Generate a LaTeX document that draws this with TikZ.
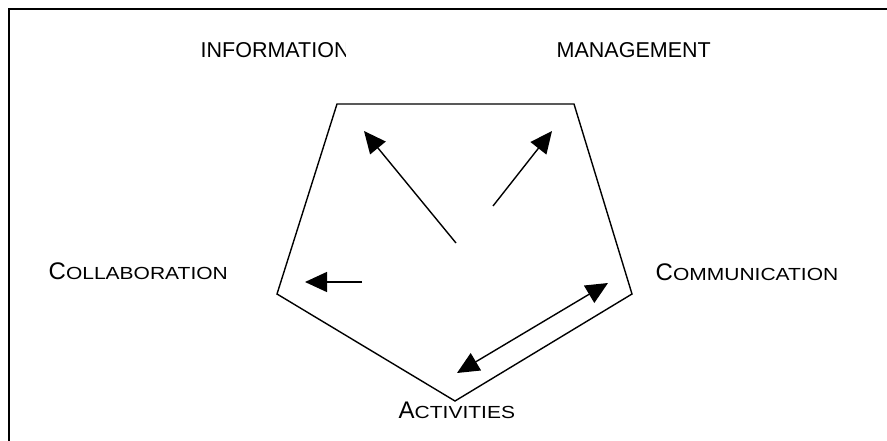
\documentclass[tikz,border=0pt]{standalone}
\usepackage{fontspec}
\usepackage{graphicx}
\setmainfont{Liberation Sans}
\usetikzlibrary{arrows.meta}
% grosser Anfangsbuchstabe, Rest in breiten Kapitaelchen
\newcommand{\grossklein}[2]{{\fontsize{24}{26}\selectfont #1}\scalebox{1.2}[1]{\fontsize{17.5}{20}\selectfont #2}}

\begin{document}
\begin{tikzpicture}[x=1pt,y=-1pt,line width=1.4pt,
    spitze/.tip={Triangle[length=22pt,width=20pt]},
    pfeil/.style={-spitze},
    doppelpfeil/.style={spitze-spitze},
    beschriftung/.style={anchor=base west,inner sep=0pt,font=\fontsize{21.5}{24}\selectfont}]
    \useasboundingbox (0,0) rectangle (887,441);
    % Rahmen
    \draw (9,441) -- (9,9) -- (887,9);
    % Punkte
    \coordinate (P1) at (337,104);
    \coordinate (P2) at (574,104);
    \coordinate (P3) at (632,294);
    \coordinate (P4) at (455,401);
    \coordinate (P5) at (277,294);
    \draw (P1) -- (P2) -- (P3) -- (P4) -- (P5) -- cycle;
    % Pfeile
    \coordinate (A1) at (456,243);
    \coordinate (B1) at (364,131);
    \coordinate (A2) at (493,206);
    \coordinate (B2) at (552,131);
    \coordinate (A3) at (362,282);
    \coordinate (B3) at (305,282);
    \coordinate (A4) at (457,373);
    \coordinate (B4) at (608,283);
    \draw[pfeil] (A1) -- (B1);
    \draw[pfeil] (A2) -- (B2);
    \draw[pfeil] (A3) -- (B3);
    \draw[doppelpfeil] (A4) -- (B4);
    % Texte
    \begin{scope}
        \clip (0,0) rectangle (345,441);
        \node[beschriftung] (info) at (200,58) {INFORMATION};
    \end{scope}
    \node[beschriftung] (mgmt) at (556,58) {MANAGEMENT};
    \node[beschriftung] (koll) at (48,279) {\grossklein{C}{OLLABORATION}};
    \node[beschriftung] (komm) at (655,280) {\grossklein{C}{OMMUNICATION}};
    \node[beschriftung] (akt) at (398,418) {\grossklein{A}{CTIVITIES}};
\end{tikzpicture}
\end{document}
